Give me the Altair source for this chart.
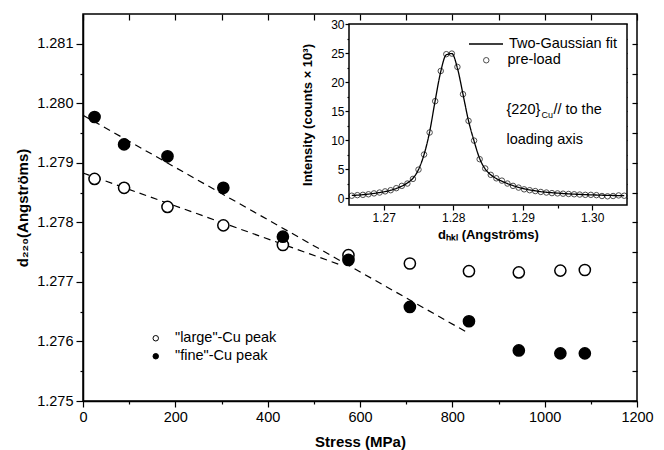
import altair as alt
import pandas as pd

FONT = "Liberation Sans"

# ---------------- main panel data ----------------
stress_mpa = [25, 89, 183, 304, 433, 575, 708, 836, 944, 1034, 1087]
d220_large = [1.27873, 1.27858, 1.27826, 1.27795, 1.27762, 1.27745, 1.27731, 1.27718, 1.27716, 1.27719, 1.27720]
d220_fine = [1.27977, 1.27931, 1.27911, 1.27858, 1.27776, 1.27737, 1.27658, 1.27634, 1.27585, 1.27580, 1.27580]
series_names = ['"large"-Cu peak', '"fine"-Cu peak']

fit_large_x = [0, 560]
fit_large_y = [1.27883, 1.27728]
fit_fine_x = [0, 828]
fit_fine_y = [1.27980, 1.27617]

x_domain = [0, 1200]
x_ticks = [0, 100, 200, 300, 400, 500, 600, 700, 800, 900, 1000, 1100, 1200]
y_domain = [1.275, 1.2815]
y_ticks = [1.275, 1.2755, 1.276, 1.2765, 1.277, 1.2775, 1.278, 1.2785, 1.279, 1.2795, 1.280, 1.2805, 1.281]

# ---------------- inset data ----------------
inset_d = [1.2654, 1.2662, 1.2670, 1.2678, 1.2686, 1.2694, 1.2702, 1.2710, 1.2718, 1.2726,
           1.2734, 1.2742, 1.2750, 1.2758, 1.2766, 1.2774, 1.2782, 1.2790, 1.2798, 1.2806,
           1.2814, 1.2822, 1.2830, 1.2838, 1.2846, 1.2854, 1.2862, 1.2870, 1.2878, 1.2886,
           1.2894, 1.2902, 1.2910, 1.2918, 1.2926, 1.2934, 1.2942, 1.2950, 1.2958, 1.2966,
           1.2974, 1.2982, 1.2990, 1.2998, 1.3006, 1.3014, 1.3022, 1.3030, 1.3038, 1.3046]
inset_counts = [0.40, 0.50, 0.55, 0.65, 0.80, 0.95, 1.15, 1.35, 1.70, 2.10,
                2.50, 3.30, 4.90, 7.50, 11.3, 16.7, 21.9, 24.8, 24.9, 22.6,
                17.9, 13.3, 9.9, 6.7, 5.1, 4.0, 3.4, 3.0, 2.5, 2.1,
                1.8, 1.5, 1.35, 1.2, 1.05, 0.95, 0.85, 0.80, 0.75, 0.70,
                0.65, 0.60, 0.55, 0.55, 0.50, 0.35, 0.30, 0.35, 0.45, 0.40]
fit_counts = [0.45, 0.50, 0.58, 0.68, 0.80, 0.95, 1.12, 1.35, 1.65, 2.05,
              2.60, 3.40, 4.90, 7.50, 11.4, 16.8, 21.8, 24.7, 24.9, 22.4,
              17.9, 13.3, 9.8, 6.8, 5.0, 4.0, 3.35, 2.9, 2.5, 2.15,
              1.85, 1.6, 1.4, 1.25, 1.1, 1.0, 0.92, 0.85, 0.78, 0.72,
              0.67, 0.62, 0.58, 0.55, 0.52, 0.49, 0.46, 0.44, 0.42, 0.40]
inset_labels = ["Two-Gaussian fit", "pre-load"]
inset_x_domain = [1.265, 1.305]
inset_x_ticks = [1.27, 1.275, 1.28, 1.285, 1.29, 1.295, 1.30]
inset_y_domain = [-1.2, 30]
inset_y_ticks = [0, 2.5, 5, 7.5, 10, 12.5, 15, 17.5, 20, 22.5, 25, 27.5, 30]
note_texts = ["{220}", "Cu", "// to the", "loading axis"]
note_x = 1.28765
note_y = [15.2, 10.0]

# ---------------- layout (pixels, plot-area coordinates) ----------------
W, H = 554, 387
IN_L, IN_R, IN_T, IN_B = 266, 544, 10, 191

main_df = pd.DataFrame({
    "stress": stress_mpa * 2,
    "d": d220_large + d220_fine,
    "series": [series_names[0]] * len(stress_mpa) + [series_names[1]] * len(stress_mpa),
})
fit_df = pd.DataFrame({
    "stress": fit_large_x + fit_fine_x,
    "d": fit_large_y + fit_fine_y,
    "fit": ["large"] * len(fit_large_x) + ["fine"] * len(fit_fine_x),
})

major_x = "datum.value % 200 === 0"
major_y = "abs(datum.value * 1000 - round(datum.value * 1000)) < 0.01"

x_main = alt.Scale(domain=x_domain, nice=False, zero=False)
y_main = alt.Scale(domain=y_domain, nice=False, zero=False)

x_axis_main = alt.Axis(values=x_ticks, format="d", labelExpr=f"{major_x} ? datum.label : ''",
                       tickSize={"condition": {"test": major_x, "value": 6}, "value": 3},
                       title="Stress (MPa)", orient="bottom", labelPadding=3, titlePadding=11,
                       domainWidth=1.5, tickWidth=1.2, labelFontSize=14.5, titleFontSize=15,
                       titleFontWeight="bold", labelFlush=False, labelOverlap=False, grid=False)
y_axis_main = alt.Axis(values=y_ticks, format=".3f", labelExpr=f"{major_y} ? datum.label : ''",
                       tickSize={"condition": {"test": major_y, "value": 7}, "value": 3},
                       title="d₂₂₀(Angströms)", orient="left", labelPadding=3, titlePadding=6,
                       domainWidth=1.5, tickWidth=1.2, labelFontSize=14.5, titleFontSize=15,
                       titleFontWeight="bold", labelFlush=False, labelOverlap=False, grid=False)

fits = alt.Chart(fit_df).mark_line(color="black", strokeDash=[7, 5], strokeWidth=1.2).encode(
    x=alt.X("stress:Q", scale=x_main, axis=x_axis_main),
    y=alt.Y("d:Q", scale=y_main, axis=y_axis_main),
    detail="fit:N",
)
points = alt.Chart(main_df).mark_point(filled=True, size=125, stroke="black", strokeWidth=1.5, opacity=1).encode(
    x=alt.X("stress:Q", scale=x_main, axis=x_axis_main),
    y=alt.Y("d:Q", scale=y_main, axis=y_axis_main),
    fill=alt.Fill("series:N", scale=alt.Scale(domain=series_names, range=["white", "black"]),
                  legend=alt.Legend(orient="none", legendX=65.5, legendY=317, title=None,
                                    symbolType="circle", symbolSize=30, symbolStrokeColor="black",
                                    symbolStrokeWidth=1, labelOffset=12, rowPadding=3,
                                    labelFontSize=14.5, padding=0)),
)
main_layer = alt.layer(fits, points)

# frame ticks (top / right, inward) for the main panel
frame_main = alt.Chart(main_df).mark_point(opacity=0).encode(
    x=alt.X("stress:Q", scale=x_main,
            axis=alt.Axis(orient="top", offset=-6, tickSize=6, values=x_ticks, domain=False,
                          labels=False, title=None, grid=False, tickWidth=1.2)),
    y=alt.Y("d:Q", scale=y_main,
            axis=alt.Axis(orient="right", offset=-5, tickSize=5, values=y_ticks, domain=False,
                          labels=False, title=None, grid=False, tickWidth=1.2)),
)

# ---------------- inset ----------------
xs_in = alt.Scale(domain=inset_x_domain, range=[IN_L, IN_R], nice=False, zero=False)
ys_in = alt.Scale(domain=inset_y_domain, range=[IN_B, IN_T], nice=False, zero=False)
major_ix = "abs(datum.value * 100 - round(datum.value * 100)) < 0.01"
major_iy = "datum.value % 5 === 0"
inset_x_axis = alt.Axis(orient="bottom", offset=-(H - IN_B), values=inset_x_ticks, format=".2f",
                        labelExpr=f"{major_ix} ? datum.label : ''",
                        tickSize={"condition": {"test": major_ix, "value": 5}, "value": 3},
                        title="dₕₖₗ (Angströms)", labelFontSize=12, labelPadding=2, titlePadding=5,
                        titleFontSize=13, titleFontWeight="bold", domain=False, tickWidth=1.2,
                        labelFlush=False, labelOverlap=False, grid=False)
inset_y_axis = alt.Axis(orient="left", offset=-IN_L, values=inset_y_ticks, format="d",
                        labelExpr=f"{major_iy} ? datum.label : ''",
                        tickSize={"condition": {"test": major_iy, "value": 4}, "value": 2},
                        title="Intensity (counts × 10³)", labelFontSize=12, labelPadding=1,
                        titlePadding=16, titleFontSize=13, titleFontWeight="bold", domain=False,
                        tickWidth=1.2, labelFlush=False, labelOverlap=False, grid=False)

box_df = pd.DataFrame({"x": [inset_x_domain[0]], "x2": [inset_x_domain[1]],
                       "y": [inset_y_domain[0]], "y2": [inset_y_domain[1]]})
box = alt.Chart(box_df).mark_rect(fill="white", stroke="black", strokeWidth=1.5).encode(
    x=alt.X("x:Q", scale=xs_in, axis=inset_x_axis), x2="x2:Q",
    y=alt.Y("y:Q", scale=ys_in, axis=inset_y_axis), y2="y2:Q",
)
inset_fit_df = pd.DataFrame({"x": inset_d, "y": fit_counts, "lbl": inset_labels[0]})
inset_pts_df = pd.DataFrame({"x": inset_d, "y": inset_counts, "lbl": inset_labels[1]})

fit_line = alt.Chart(inset_fit_df).mark_line(color="black", strokeWidth=1.3, interpolate="monotone").encode(
    x=alt.X("x:Q", scale=xs_in, axis=inset_x_axis),
    y=alt.Y("y:Q", scale=ys_in, axis=inset_y_axis),
    strokeDash=alt.StrokeDash("lbl:N", scale=alt.Scale(domain=[inset_labels[0]], range=[[1, 0]]),
                              legend=alt.Legend(orient="none", legendX=385, legendY=12, title=None,
                                                symbolSize=1156, symbolStrokeColor="black",
                                                symbolStrokeWidth=1.3, labelOffset=5,
                                                labelFontSize=14.5, padding=0)),
)
inset_pts = alt.Chart(inset_pts_df).mark_point(filled=False, size=30, color="black", strokeWidth=1).encode(
    x=alt.X("x:Q", scale=xs_in, axis=inset_x_axis),
    y=alt.Y("y:Q", scale=ys_in, axis=inset_y_axis),
    shape=alt.Shape("lbl:N", scale=alt.Scale(domain=[inset_labels[1]], range=["circle"]),
                    legend=alt.Legend(orient="none", legendX=396, legendY=39, title=None,
                                      symbolSize=30, symbolStrokeColor="black",
                                      symbolStrokeWidth=1, labelOffset=14,
                                      labelFontSize=14.5, padding=0)),
)

def note(txt, y, dx, dy=0, size=14.5):
    df = pd.DataFrame({"x": [note_x], "y": [y], "t": [txt]})
    return alt.Chart(df).mark_text(align="left", baseline="middle", font=FONT, fontSize=size,
                                   color="black", dx=dx, dy=dy).encode(
        x=alt.X("x:Q", scale=xs_in, axis=inset_x_axis),
        y=alt.Y("y:Q", scale=ys_in, axis=inset_y_axis),
        text="t:N",
    )

notes = [note(note_texts[0], note_y[0], 0),
         note(note_texts[1], note_y[0], 35, dy=5, size=9),
         note(note_texts[2], note_y[0], 47),
         note(note_texts[3], note_y[1], 0)]

inset_layer = alt.layer(box, fit_line, inset_pts, *notes)

frame_inset = alt.Chart(inset_pts_df).mark_point(opacity=0).encode(
    x=alt.X("x:Q", scale=xs_in,
            axis=alt.Axis(orient="top", offset=-(IN_T + 4), tickSize=4, values=inset_x_ticks,
                          domain=False, labels=False, title=None, grid=False, tickWidth=1.2)),
    y=alt.Y("y:Q", scale=ys_in,
            axis=alt.Axis(orient="right", offset=-(W - IN_R + 4), tickSize=4, values=inset_y_ticks,
                          domain=False, labels=False, title=None, grid=False, tickWidth=1.2)),
)

chart = alt.layer(main_layer, inset_layer, frame_main, frame_inset).resolve_scale(
    x="independent", y="independent"
).properties(
    width=W, height=H,
    autosize=alt.AutoSizeParams(type="none"),
    padding={"left": 75, "top": 6, "right": 19, "bottom": 49},
    background="white",
).configure_view(stroke="black", strokeWidth=1.5).configure_axis(
    labelFont=FONT, titleFont=FONT, labelColor="black", titleColor="black",
    domainColor="black", tickColor="black",
).configure_legend(labelFont=FONT, labelColor="black")

chart.save("out.html", embed_options={"renderer": "svg", "actions": False})
